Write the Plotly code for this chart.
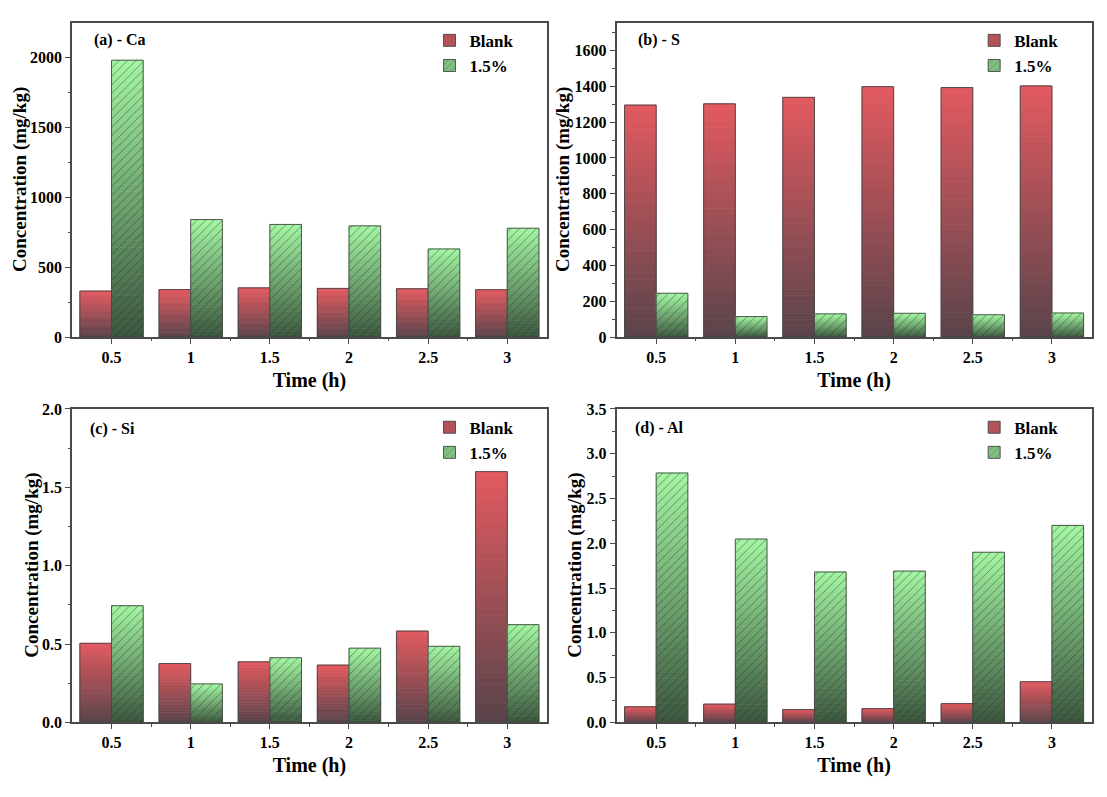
import plotly.graph_objects as go

# ---------------- data ----------------
times = ["0.5", "1", "1.5", "2", "2.5", "3"]
series_names = ["Blank", "1.5%"]

ca_blank = [329, 340, 352, 348, 346, 339]
ca_15 = [1978, 840, 805, 795, 630, 778]

s_blank = [1295, 1302, 1338, 1398, 1393, 1402]
s_15 = [245, 115, 130, 133, 125, 135]

si_blank = [0.505, 0.376, 0.387, 0.366, 0.583, 1.60]
si_15 = [0.745, 0.246, 0.413, 0.474, 0.486, 0.624]

al_blank = [0.175, 0.205, 0.145, 0.155, 0.21, 0.455]
al_15 = [2.785, 2.048, 1.68, 1.69, 1.90, 2.20]

panel_labels = ["(a) - Ca", "(b) - S", "(c) - Si", "(d) - Al"]
y_title = "Concentration (mg/kg)"
x_title = "Time (h)"

# ---------------- style ----------------
FONT = "Liberation Serif"
N_SEG = 40
RED_TOP, RED_BOT = (226, 90, 96), (88, 68, 74)
GRN_TOP, GRN_BOT = (164, 246, 164), (60, 86, 62)
OUTLINE = "rgba(70,70,70,0.9)"
AXCOL = "#4a4a4a"

panels = [
    dict(vals=(ca_blank, ca_15), xd=[0.065, 0.494], yd=[0.578, 0.981], yr=[0, 2245], dt=500, mdt=250,
         fmt="d", lab=(92, 33), ytx=20, leg=(0.388, 0.981)),
    dict(vals=(s_blank, s_15), xd=[0.557, 0.986], yd=[0.578, 0.981], yr=[0, 1754], dt=200, mdt=100,
         fmt="d", lab=(636, 33), ytx=563, leg=(0.880, 0.981)),
    dict(vals=(si_blank, si_15), xd=[0.065, 0.494], yd=[0.084, 0.486], yr=[0, 2.0], dt=0.5, mdt=0.25,
         fmt=".1f", lab=(88, 430), ytx=32, leg=(0.388, 0.485)),
    dict(vals=(al_blank, al_15), xd=[0.557, 0.986], yd=[0.084, 0.486], yr=[0, 3.5], dt=0.5, mdt=0.25,
         fmt=".1f", lab=(633, 429), ytx=575, leg=(0.880, 0.485)),
]

W, H = 1107, 797


def mix(c0, c1, t):
    return "rgb(%d,%d,%d)" % tuple(round(a + (b - a) * t) for a, b in zip(c0, c1))


idx = list(range(len(times)))
fig = go.Figure()
layout = dict(
    width=W, height=H, margin=dict(l=0, r=0, t=0, b=0),
    paper_bgcolor="white", plot_bgcolor="white",
    barmode="group", bargap=0.2, bargroupgap=0.0,
    font=dict(family=FONT, color="black"),
    annotations=[],
)

for p_i, p in enumerate(panels):
    n = "" if p_i == 0 else str(p_i + 1)
    xa, ya = "x" + n, "y" + n
    legname = "legend" + n
    for s_i, (vals, name) in enumerate(zip(p["vals"], series_names)):
        top, bot = (RED_TOP, RED_BOT) if s_i == 0 else (GRN_TOP, GRN_BOT)
        grp = "g%d_%d" % (p_i, s_i)
        # vertical gradient: stacked slices of each bar
        for k in range(N_SEG):
            col = mix(bot, top, (k + 0.5) / N_SEG)
            fig.add_trace(go.Bar(
                x=idx, y=[v / N_SEG for v in vals], base=[v * k / N_SEG for v in vals],
                offsetgroup=grp, alignmentgroup="a%d" % p_i,
                marker=dict(color=col, line=dict(color=col, width=0.8)),
                showlegend=False, hoverinfo="skip", xaxis=xa, yaxis=ya,
            ))
        # outline (+ hatch for 1.5%)
        mk = dict(color="rgba(0,0,0,0)", line=dict(color=OUTLINE, width=1))
        if s_i == 1:
            mk["pattern"] = dict(shape="/", fgcolor="rgba(28,52,30,0.55)", bgcolor="rgba(0,0,0,0)",
                                 size=6, solidity=0.14, fillmode="replace")
        fig.add_trace(go.Bar(
            x=idx, y=vals, offsetgroup=grp, alignmentgroup="a%d" % p_i, marker=mk,
            showlegend=False, name=name, xaxis=xa, yaxis=ya,
        ))
        # legend entry
        lmk = dict(color=mix(bot, top, 0.66), line=dict(color=OUTLINE, width=1))
        if s_i == 1:
            lmk["pattern"] = dict(shape="/", fgcolor="rgba(28,52,30,0.6)", size=6, solidity=0.18)
        fig.add_trace(go.Bar(
            x=[None], y=[None], name=name, offsetgroup=grp, alignmentgroup="a%d" % p_i,
            marker=lmk, showlegend=True, legend=legname, xaxis=xa, yaxis=ya,
        ))

    layout["xaxis" + n] = dict(
        domain=p["xd"], anchor=ya, range=[-0.5, len(times) - 0.5],
        tickmode="array", tickvals=idx, ticktext=times,
        ticks="outside", ticklen=5, tickwidth=1.3, tickcolor=AXCOL,
        minor=dict(tickmode="array", tickvals=[i + 0.5 for i in idx[:-1]], ticks="outside",
                   ticklen=2.5, tickwidth=1.3, tickcolor=AXCOL),
        showline=True, linecolor=AXCOL, linewidth=1.6, mirror=True,
        showgrid=False, zeroline=False,
        tickfont=dict(family=FONT, size=16, color="black", weight="bold"),
        title=dict(text=x_title, font=dict(family=FONT, size=20, color="black", weight="bold"),
                   standoff=8),
    )
    layout["yaxis" + n] = dict(
        domain=p["yd"], anchor=xa, range=p["yr"], dtick=p["dt"], tick0=0, tickformat=p["fmt"],
        ticks="outside", ticklen=5, tickwidth=1.3, tickcolor=AXCOL,
        minor=dict(dtick=p["mdt"], ticks="outside", ticklen=2.5, tickwidth=1.3, tickcolor=AXCOL),
        showline=True, linecolor=AXCOL, linewidth=1.6, mirror=True,
        showgrid=False, zeroline=False,
        tickfont=dict(family=FONT, size=16, color="black", weight="bold"),
    )
    layout[legname] = dict(
        x=p["leg"][0], y=p["leg"][1], xanchor="left", yanchor="top",
        bgcolor="rgba(0,0,0,0)", tracegroupgap=0, itemwidth=30,
        font=dict(family=FONT, size=17, color="black", weight="bold"),
    )
    layout["annotations"].append(dict(
        text=panel_labels[p_i], xref="paper", yref="paper",
        x=p["lab"][0] / W, y=1 - p["lab"][1] / H, xanchor="left", yanchor="middle",
        showarrow=False, font=dict(family=FONT, size=16, color="black", weight="bold"),
    ))
    layout["annotations"].append(dict(
        text=y_title, xref="paper", yref="paper", textangle=-90,
        x=p["ytx"] / W, y=(p["yd"][0] + p["yd"][1]) / 2, xanchor="center", yanchor="middle",
        showarrow=False, font=dict(family=FONT, size=19, color="black", weight="bold"),
    ))

fig.update_layout(**layout)
fig.write_html("out.html")
